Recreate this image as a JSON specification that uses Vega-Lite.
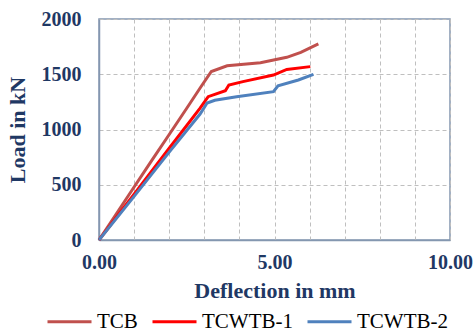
{
  "$schema": "https://vega.github.io/schema/vega-lite/v6.json",
  "width": 351,
  "height": 221,
  "autosize": {"type": "none"},
  "padding": {"left": 99, "top": 19, "right": 25, "bottom": 96},
  "background": "white",
  "config": {
    "font": "Liberation Serif",
    "view": {"stroke": "#8497B0", "strokeWidth": 1.5},
    "axis": {"grid": true, "gridColor": "#BFBFBF", "gridDash": [4, 3], "gridWidth": 1, "gridOpacity": 1}
  },
  "data": {
    "values": [
      {"s": "TCB", "x": 0, "y": 0},
      {"s": "TCB", "x": 0.5, "y": 240},
      {"s": "TCB", "x": 1.0, "y": 480},
      {"s": "TCB", "x": 1.5, "y": 718},
      {"s": "TCB", "x": 2.0, "y": 955},
      {"s": "TCB", "x": 2.5, "y": 1192},
      {"s": "TCB", "x": 2.9, "y": 1385},
      {"s": "TCB", "x": 3.2, "y": 1525},
      {"s": "TCB", "x": 3.65, "y": 1577},
      {"s": "TCB", "x": 4.6, "y": 1605},
      {"s": "TCB", "x": 5.35, "y": 1653},
      {"s": "TCB", "x": 5.75, "y": 1698},
      {"s": "TCB", "x": 6.25, "y": 1774},
      {"s": "TCWTB-1", "x": 0, "y": 0},
      {"s": "TCWTB-1", "x": 1.0, "y": 415},
      {"s": "TCWTB-1", "x": 2.0, "y": 830},
      {"s": "TCWTB-1", "x": 2.88, "y": 1193},
      {"s": "TCWTB-1", "x": 3.11, "y": 1297},
      {"s": "TCWTB-1", "x": 3.6, "y": 1351},
      {"s": "TCWTB-1", "x": 3.7, "y": 1403},
      {"s": "TCWTB-1", "x": 4.1, "y": 1433},
      {"s": "TCWTB-1", "x": 4.97, "y": 1493},
      {"s": "TCWTB-1", "x": 5.35, "y": 1544},
      {"s": "TCWTB-1", "x": 6.02, "y": 1569},
      {"s": "TCWTB-2", "x": 0, "y": 0},
      {"s": "TCWTB-2", "x": 1.0, "y": 395},
      {"s": "TCWTB-2", "x": 2.0, "y": 795},
      {"s": "TCWTB-2", "x": 2.88, "y": 1140},
      {"s": "TCWTB-2", "x": 3.08, "y": 1240},
      {"s": "TCWTB-2", "x": 3.3, "y": 1265},
      {"s": "TCWTB-2", "x": 3.92, "y": 1297},
      {"s": "TCWTB-2", "x": 4.97, "y": 1342},
      {"s": "TCWTB-2", "x": 5.1, "y": 1395},
      {"s": "TCWTB-2", "x": 5.68, "y": 1448},
      {"s": "TCWTB-2", "x": 6.11, "y": 1499}
    ]
  },
  "mark": {"type": "line", "strokeWidth": 3},
  "encoding": {
    "x": {
      "field": "x",
      "type": "quantitative",
      "scale": {"domain": [0, 10], "nice": false},
      "axis": {
        "values": [0, 1, 2, 3, 4, 5, 6, 7, 8, 9, 10],
        "labelExpr": "datum.value % 5 === 0 ? format(datum.value, '.2f') : ''",
        "title": "Deflection in  mm",
        "titleFont": "Liberation Serif",
        "titleFontSize": 22,
        "titleFontWeight": "bold",
        "titleColor": "#1F3864",
        "titlePadding": 8,
        "labelFont": "Liberation Serif",
        "labelFontSize": 20,
        "labelFontWeight": "bold",
        "labelColor": "#1F3864",
        "labelPadding": 12,
        "labelFlush": false,
        "labelOverlap": false,
        "ticks": false,
        "domainColor": "#8497B0",
        "domainWidth": 1.5
      }
    },
    "y": {
      "field": "y",
      "type": "quantitative",
      "scale": {"domain": [0, 2000], "nice": false},
      "axis": {
        "values": [0, 500, 1000, 1500, 2000],
        "format": "d",
        "title": "Load in kN",
        "titleFont": "Liberation Serif",
        "titleFontSize": 22,
        "titleFontWeight": "bold",
        "titleColor": "#1F3864",
        "titlePadding": 12,
        "labelFont": "Liberation Serif",
        "labelFontSize": 20,
        "labelFontWeight": "bold",
        "labelColor": "#1F3864",
        "labelPadding": 18,
        "labelFlush": false,
        "ticks": false,
        "domainColor": "#8497B0",
        "domainWidth": 1.5
      }
    },
    "color": {
      "field": "s",
      "type": "nominal",
      "scale": {"domain": ["TCB", "TCWTB-1", "TCWTB-2"], "range": ["#C0504D", "#FF0000", "#4F81BD"]},
      "legend": {
        "title": null,
        "orient": "none",
        "direction": "horizontal",
        "legendX": -53,
        "legendY": 279,
        "symbolType": "stroke",
        "symbolSize": 1936,
        "symbolStrokeWidth": 3,
        "labelFont": "Liberation Serif",
        "labelFontSize": 21,
        "labelColor": "#000000",
        "labelOffset": 4,
        "columnPadding": 8
      }
    }
  }
}
